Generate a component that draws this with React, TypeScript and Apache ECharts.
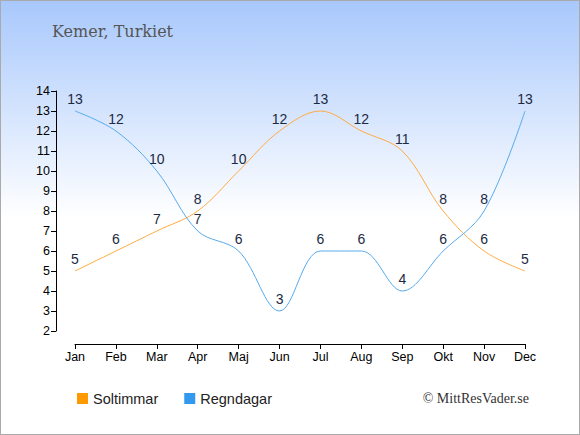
import React, { useEffect, useRef } from "react";
import * as echarts from "echarts";

const months = ["Jan", "Feb", "Mar", "Apr", "Maj", "Jun", "Jul", "Aug", "Sep", "Okt", "Nov", "Dec"];
const soltimmar = [5, 6, 7, 8, 10, 12, 13, 12, 11, 8, 6, 5];
const regndagar = [13, 12, 10, 7, 6, 3, 6, 6, 4, 6, 8, 13];
const titleText = "Kemer, Turkiet";
const copyright = "© MittResVader.se";

export default function App() {
  const ref = useRef<HTMLDivElement>(null);
  useEffect(() => {
    document.body.style.margin = "0";
    const chart = echarts.init(ref.current!, undefined, { renderer: "svg" });
    const labelStyle = {
      show: true,
      position: "top" as const,
      distance: 5,
      color: "#1c2a44",
      fontSize: 14,
      fontFamily: "Liberation Sans, Arial, sans-serif",
    };
    chart.setOption({
      animation: false,
      title: {
        text: titleText,
        left: 46,
        top: 17,
        textStyle: { fontFamily: "DejaVu Serif", fontSize: 16, fontWeight: "normal", color: "#555555" },
      },
      grid: { left: 74, right: 54, top: 90, bottom: 103 },
      legend: {
        left: 71,
        top: 385,
        icon: "rect",
        itemWidth: 11,
        itemHeight: 11,
        itemGap: 26,
        textStyle: { fontSize: 14.5, color: "#222222", fontFamily: "Liberation Sans, Arial, sans-serif" },
        data: ["Soltimmar", "Regndagar"],
      },
      xAxis: {
        type: "category",
        data: months,
        boundaryGap: false,
        offset: 13,
        axisLine: { lineStyle: { color: "#000", width: 1 } },
        axisTick: { alignWithLabel: true, length: 5, lineStyle: { color: "#000" } },
        axisLabel: { color: "#000", fontSize: 12.5, margin: 6, fontFamily: "Liberation Sans, Arial, sans-serif" },
        splitLine: { show: false },
      },
      yAxis: {
        type: "value",
        min: 2,
        max: 14,
        interval: 1,
        offset: 19,
        axisLine: { show: true, lineStyle: { color: "#000", width: 1 } },
        axisTick: { show: true, length: 5, lineStyle: { color: "#000" } },
        axisLabel: { color: "#000", fontSize: 12.5, margin: 6, fontFamily: "Liberation Sans, Arial, sans-serif" },
        splitLine: { show: false },
      },
      graphic: [
        {
          type: "text",
          right: 50,
          top: 390,
          style: {
            text: copyright,
            fontFamily: "Liberation Serif",
            fontSize: 14,
            fill: "#333333",
          },
        },
      ],
      series: [
        {
          name: "Soltimmar",
          type: "line",
          data: soltimmar,
          smooth: 0.35,
          symbol: "circle",
          symbolSize: 0,
          showSymbol: true,
          color: "#ff9900",
          lineStyle: { color: "#ffaa44", width: 1 },
          label: labelStyle,
        },
        {
          name: "Regndagar",
          type: "line",
          data: regndagar,
          smooth: 0.35,
          symbol: "circle",
          symbolSize: 0,
          showSymbol: true,
          color: "#3399ee",
          lineStyle: { color: "#55aaee", width: 1 },
          label: labelStyle,
        },
      ],
    });
    return () => chart.dispose();
  }, []);
  return (
    <div
      style={{
        width: 580,
        height: 435,
        boxSizing: "border-box",
        border: "1px solid #aaaaaa",
        background: "linear-gradient(to bottom, #a8c8fc 0%, #ffffff 50%, #ffffff 100%)",
        position: "relative",
      }}
    >
      <div ref={ref} style={{ width: 578, height: 433 }} />
    </div>
  );
}
